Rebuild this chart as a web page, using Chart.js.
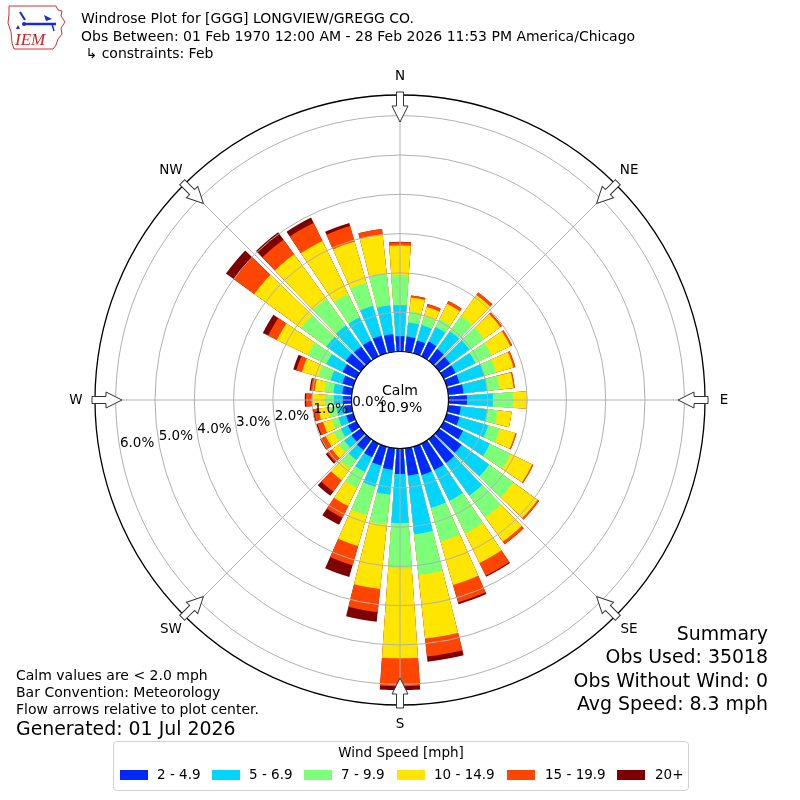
<!DOCTYPE html>
<html>
<head>
<meta charset="utf-8">
<title>Windrose GGG</title>
<script src="https://cdn.jsdelivr.net/npm/chart.js"></script>
<style>
  body { margin: 0; background: #fff; font-family: "DejaVu Sans", sans-serif; color: #000; }
  #wrap { position: relative; width: 800px; height: 800px; overflow: hidden; }
  #chart { position: absolute; left: 0; top: 0; }
  .t { position: absolute; white-space: nowrap; }
  #head { left: 81px; top: 10px; font-size: 14px; line-height: 17.5px; }
  #summary { right: 32px; top: 622px; font-size: 18.9px; line-height: 23.3px; text-align: right; }
  #notes { left: 16px; top: 667px; font-size: 14px; line-height: 17px; }
  #generated { left: 16px; top: 717px; font-size: 18.9px; }
  #legend { position: absolute; left: 113px; top: 741px; width: 574px; height: 48px;
            border: 1px solid #d0d0d0; border-radius: 4px; background: #fff; }
  #legend .title { position: absolute; left: 0; width: 100%; top: 2px; text-align: center; font-size: 13.5px; }
  #legend .sw { position: absolute; top: 28px; width: 28px; height: 10px; }
  #legend .lab { position: absolute; top: 24px; font-size: 13.5px; white-space: nowrap; }
</style>
</head>
<body>
<div id="wrap">
  <canvas id="chart" width="800" height="800"></canvas>

  <svg class="t" style="left:6px;top:3px" width="62" height="48" viewBox="0 0 62 48">
    <path d="M3 3 L50 3 L52 7 L56 8 L55 13 L59 19 L55 25 L56 31 L52 36 L50 42 L47 46 L8 46 L6 40 L5 29 L2 20 L3 11 Z"
          fill="none" stroke="#d43030" stroke-width="1"/>
    <line x1="18" y1="21" x2="50" y2="21" stroke="#1a2cc8" stroke-width="2.5"/>
    <line x1="14" y1="9" x2="19" y2="17" stroke="#1a2cc8" stroke-width="2"/>
    <path d="M38 12 L46 16 L40 18 Z" fill="#1a2cc8"/>
    <circle cx="18" cy="21" r="2" fill="#1a2cc8"/>
    <path d="M12 22 L14 26 L10 26 Z" fill="#1a2cc8"/>
    <line x1="46" y1="21" x2="48" y2="28" stroke="#1a2cc8" stroke-width="1.5"/>
    <text x="9" y="42" font-family="Liberation Serif" font-style="italic" font-size="17" fill="#d42020">IEM</text>
  </svg>

  <div id="head" class="t">
    <div>Windrose Plot for [GGG] LONGVIEW/GREGG CO.</div>
    <div>Obs Between: 01 Feb 1970 12:00 AM - 28 Feb 2026 11:53 PM America/Chicago</div>
    <div>&nbsp;↳ constraints: Feb</div>
  </div>

  <div id="summary" class="t">
    <div>Summary</div>
    <div>Obs Used: 35018</div>
    <div>Obs Without Wind: 0</div>
    <div>Avg Speed: 8.3 mph</div>
  </div>

  <div id="notes" class="t">
    <div>Calm values are &lt; 2.0 mph</div>
    <div>Bar Convention: Meteorology</div>
    <div>Flow arrows relative to plot center.</div>
  </div>
  <div id="generated" class="t">Generated: 01 Jul 2026</div>

  <div id="legend">
    <div class="title">Wind Speed [mph]</div>
  </div>
</div>

<script>
// wind directions (degrees, bar centres)
const directions = [0, 10, 20, 30, 40, 50, 60, 70, 80, 90, 100, 110, 120, 130, 140, 150, 160, 170,
                    180, 190, 200, 210, 220, 230, 240, 250, 260, 270, 280, 290, 300, 310, 320, 330, 340, 350];

// percent of observations per speed class, one value per direction
const spd2to5   = [0.39, 0.39, 0.34, 0.42, 0.37, 0.34, 0.34, 0.34, 0.39, 0.47, 0.32, 0.34, 0.55, 0.70, 0.75, 0.75, 0.75, 0.70,
                   0.65, 0.55, 0.50, 0.39, 0.34, 0.29, 0.24, 0.19, 0.19, 0.22, 0.24, 0.29, 0.39, 0.47, 0.45, 0.45, 0.47, 0.45];
const spd5to7   = [0.79, 0.36, 0.41, 0.41, 0.56, 0.61, 0.56, 0.66, 0.61, 0.66, 0.69, 0.76, 0.76, 0.87, 1.02, 0.87, 0.87, 1.50,
                   1.25, 0.64, 0.56, 0.41, 0.31, 0.23, 0.20, 0.20, 0.20, 0.23, 0.23, 0.31, 0.46, 0.61, 0.66, 0.66, 0.79, 0.74];
const spd7to10  = [0.76, 0.28, 0.23, 0.23, 0.48, 0.46, 0.46, 0.31, 0.31, 0.51, 0.25, 0.31, 0.59, 0.76, 0.69, 0.92, 0.89, 1.04,
                   1.15, 0.76, 0.76, 0.46, 0.28, 0.18, 0.20, 0.18, 0.20, 0.23, 0.23, 0.33, 0.53, 0.79, 0.84, 0.66, 0.61, 0.81];
const spd10to15 = [0.76, 0.36, 0.25, 0.43, 0.66, 0.51, 0.53, 0.46, 0.36, 0.36, 0.36, 0.41, 0.61, 0.76, 0.76, 0.84, 1.15, 1.63,
                   2.29, 1.65, 0.81, 0.51, 0.36, 0.20, 0.23, 0.23, 0.25, 0.33, 0.25, 0.43, 0.87, 1.48, 1.40, 1.50, 1.09, 0.99];
const spd15to20 = [0.08, 0.05, 0.08, 0.08, 0.08, 0.05, 0.05, 0.05, 0.03, 0.00, 0.00, 0.03, 0.03, 0.05, 0.08, 0.36, 0.46, 0.46,
                   0.71, 0.59, 0.51, 0.33, 0.36, 0.15, 0.13, 0.15, 0.13, 0.15, 0.10, 0.15, 0.25, 0.64, 0.46, 0.51, 0.41, 0.15];
const spd20up   = [0.01, 0.00, 0.00, 0.00, 0.00, 0.00, 0.00, 0.00, 0.00, 0.00, 0.00, 0.00, 0.00, 0.00, 0.00, 0.03, 0.05, 0.13,
                   0.10, 0.25, 0.31, 0.20, 0.13, 0.05, 0.03, 0.03, 0.03, 0.03, 0.03, 0.08, 0.15, 0.25, 0.23, 0.15, 0.08, 0.00];

const speedBins = ['2 - 4.9', '5 - 6.9', '7 - 9.9', '10 - 14.9', '15 - 19.9', '20+'];
const binColors = ['#0028ff', '#00d4ff', '#7cff79', '#ffe600', '#ff4600', '#7f0000'];
const calmPct = 10.9;

const tickValues = [0, 1, 2, 3, 4, 5, 6];
const compassNames = ['N', 'NE', 'E', 'SE', 'S', 'SW', 'W', 'NW'];
const compassAngles = [0, 45, 90, 135, 180, 225, 270, 315];

// radial range: 0% sits on the calm circle
const rMin = -1.234;
const rMax = 6.527;
const barWidth = 8;   // degrees
const gapWidth = 2;

const classes = [spd2to5, spd5to7, spd7to10, spd10to15, spd15to20, spd20up];

// each dataset holds the running total up to its class, drawn back to front
const datasets = classes.map(function(arr, k) {
    const data = [];
    directions.forEach(function(d, i) {
        let cum = 0;
        for (let j = 0; j <= k; j++) cum += classes[j][i];
        data.push(cum, rMin);
    });
    return {
        label: speedBins[k],
        data: data,
        backgroundColor: ctx => ctx.dataIndex % 2 ? 'rgba(0,0,0,0)' : binColors[k],
        borderWidth: 0,
        angle: ctx => ctx.dataIndex % 2 ? gapWidth : barWidth
    };
});
const labels = [];
directions.forEach(d => labels.push(d + '°', ''));

// legend
const legend = document.getElementById('legend');
const swatchX = [6, 98, 190, 283, 393, 503];
const labelX = [43, 135, 227, 320, 431, 541];
speedBins.forEach(function(name, k) {
    const sw = document.createElement('div');
    sw.className = 'sw';
    sw.style.left = swatchX[k] + 'px';
    sw.style.background = binColors[k];
    legend.appendChild(sw);
    const lab = document.createElement('div');
    lab.className = 'lab';
    lab.style.left = labelX[k] + 'px';
    lab.textContent = name;
    legend.appendChild(lab);
});

const windroseDecor = {
    id: 'windroseDecor',
    afterDraw(chart) {
        const ctx = chart.ctx;
        const s = chart.scales.r;
        const cx = s.xCenter, cy = s.yCenter;
        const r0 = s.getDistanceFromCenterForValue(0);
        const R = s.drawingArea;
        ctx.save();

        // direction spokes
        ctx.strokeStyle = '#b0b0b0';
        ctx.lineWidth = 1;
        compassAngles.forEach(function(a) {
            const rad = a * Math.PI / 180;
            const ux = Math.sin(rad), uy = -Math.cos(rad);
            ctx.beginPath();
            ctx.moveTo(cx + ux * r0, cy + uy * r0);
            ctx.lineTo(cx + ux * R, cy + uy * R);
            ctx.stroke();
        });

        // calm circle
        ctx.beginPath();
        ctx.arc(cx, cy, r0, 0, Math.PI * 2);
        ctx.fillStyle = '#fff';
        ctx.fill();
        ctx.strokeStyle = '#000';
        ctx.lineWidth = 1.2;
        ctx.stroke();

        ctx.fillStyle = '#000';
        ctx.font = '14px "DejaVu Sans"';
        ctx.textAlign = 'center';
        ctx.textBaseline = 'middle';
        ctx.fillText('Calm', cx, cy - 9);
        ctx.fillText(calmPct.toFixed(1) + '%', cx, cy + 8);

        // flow arrows pointing to centre
        compassAngles.forEach(function(a) {
            const rad = a * Math.PI / 180;
            ctx.save();
            ctx.translate(cx, cy);
            ctx.rotate(rad);
            // local frame: -y is outward
            const tail = -(R + 3), tip = -(R - 27), neck = tip - 16;
            ctx.beginPath();
            ctx.moveTo(-3.5, tail);
            ctx.lineTo(-3.5, neck);
            ctx.lineTo(-8, neck);
            ctx.lineTo(0, tip);
            ctx.lineTo(8, neck);
            ctx.lineTo(3.5, neck);
            ctx.lineTo(3.5, tail);
            ctx.closePath();
            ctx.fillStyle = '#fff';
            ctx.fill();
            ctx.strokeStyle = '#333';
            ctx.lineWidth = 1;
            ctx.stroke();
            ctx.restore();
        });

        // compass labels
        ctx.fillStyle = '#000';
        ctx.font = '13.5px "DejaVu Sans"';
        ctx.textAlign = 'center';
        ctx.textBaseline = 'middle';
        compassAngles.forEach(function(a, i) {
            const rad = a * Math.PI / 180;
            const d = R + 19;
            ctx.fillText(compassNames[i], cx + Math.sin(rad) * d, cy - Math.cos(rad) * d);
        });

        // radial tick labels
        const phi = 9.9 * Math.PI / 180;
        ctx.textAlign = 'left';
        ctx.textBaseline = 'bottom';
        tickValues.forEach(function(v) {
            const r = s.getDistanceFromCenterForValue(v);
            ctx.fillText(v.toFixed(1) + '%', cx - r * Math.cos(phi), cy + r * Math.sin(phi) + 1);
        });

        ctx.restore();
    }
};

new Chart(document.getElementById('chart'), {
    type: 'polarArea',
    data: { labels: labels, datasets: datasets },
    options: {
        responsive: false,
        animation: false,
        events: [],
        layout: { padding: 95 },
        plugins: {
            legend: { display: false },
            tooltip: { enabled: false }
        },
        scales: {
            r: {
                min: rMin,
                max: rMax,
                startAngle: -barWidth / 2,
                afterBuildTicks: function(scale) {
                    scale.ticks = tickValues.concat([rMax]).map(v => ({ value: v }));
                },
                ticks: { display: false },
                angleLines: { display: false },
                pointLabels: { display: false },
                grid: {
                    z: 1,
                    circular: true,
                    color: c => (c.tick && c.tick.value > 6.1) ? '#000' : '#b0b0b0',
                    lineWidth: c => (c.tick && c.tick.value > 6.1) ? 1.3 : 1
                }
            }
        }
    },
    plugins: [windroseDecor]
});
</script>
</body>
</html>
